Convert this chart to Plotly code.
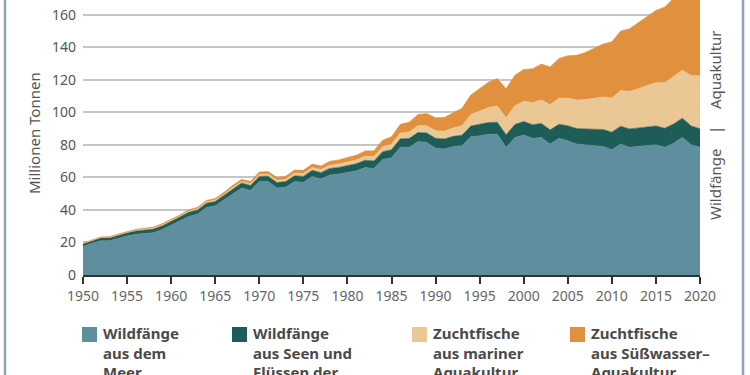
import plotly.graph_objects as go

years = list(range(1950, 2021))

wild_marine = [17.5, 19.5, 21, 21, 22.5, 24, 25, 25.5, 26, 28,
               30.5, 33, 36, 37.5, 41.5, 42.5, 46, 50, 53.5, 52,
               57.5, 57.5, 53.5, 54, 57.5, 57, 60.5, 59, 61.5, 62,
               63, 64, 66, 65.5, 71, 72, 78.5, 78.5, 82, 81.5,
               78, 77.5, 79, 79.5, 85, 85.5, 86.5, 86.5, 78.5, 84.5,
               86, 84, 84.5, 80.5, 84, 82.5, 80.5, 80, 79.5, 79,
               77, 80.5, 78.5, 79, 79.5, 80, 78.5, 81, 84.5, 80, 78.5]

wild_inland = [1.5, 1.6, 1.7, 1.8, 1.9, 2.0, 2.1, 2.2, 2.3, 2.3,
               2.4, 2.4, 2.5, 2.5, 2.6, 2.7, 2.8, 2.9, 3.0, 3.0,
               3.1, 3.2, 3.3, 3.4, 3.5, 3.6, 3.8, 3.9, 4.0, 4.1,
               4.3, 4.4, 4.5, 4.6, 4.8, 5.0, 5.2, 5.4, 5.6, 5.8,
               6.0, 6.1, 6.2, 6.4, 6.6, 7.0, 7.2, 7.4, 7.7, 8.0,
               8.3, 8.4, 8.6, 8.7, 8.6, 9.2, 9.5, 9.8, 10.1, 10.4,
               10.8, 10.9, 11.3, 11.4, 11.5, 11.6, 11.7, 11.8, 11.9, 11.6, 11.4]

aqua_marine = [0.3, 0.3, 0.35, 0.4, 0.4, 0.45, 0.5, 0.5, 0.55, 0.6,
               0.6, 0.65, 0.7, 0.75, 0.8, 0.85, 0.9, 1.0, 1.0, 1.1,
               1.2, 1.3, 1.4, 1.5, 1.6, 1.7, 1.8, 1.9, 2.0, 2.1,
               2.2, 2.3, 2.5, 2.7, 3.0, 3.3, 3.6, 3.9, 4.2, 4.4,
               4.6, 4.8, 5.2, 5.8, 7.0, 8.2, 9.2, 10.0, 10.5, 11.5,
               12.5, 13.5, 14.5, 15.5, 16.0, 17.0, 17.5, 18.0, 19.0, 20.0,
               21.0, 22.0, 23.0, 24.0, 25.5, 26.5, 28.0, 29.0, 29.5, 31.0, 32.5]

aqua_fresh = [0.3, 0.3, 0.35, 0.4, 0.45, 0.5, 0.55, 0.6, 0.65, 0.7,
              0.75, 0.8, 0.85, 0.9, 0.95, 1.0, 1.1, 1.2, 1.3, 1.4,
              1.5, 1.6, 1.7, 1.8, 1.9, 2.0, 2.1, 2.2, 2.4, 2.5,
              2.7, 2.9, 3.2, 3.5, 4.0, 4.6, 5.3, 6.0, 6.8, 7.5,
              8.0, 8.4, 9.3, 10.8, 12.0, 14.0, 15.6, 16.8, 17.8, 18.8,
              19.5, 20.8, 22.0, 23.2, 24.5, 26.0, 27.5, 29.0, 31.0, 32.5,
              34.5, 36.5, 38.5, 40.5, 42.5, 44.5, 46.5, 48.0, 49.5, 51.0, 52.5]

series_names = ["Wildfänge<br>aus dem<br>Meer",
                "Wildfänge<br>aus Seen und<br>Flüssen der",
                "Zuchtfische<br>aus mariner<br>Aquakultur",
                "Zuchtfische<br>aus Süßwasser–<br>Aquakultur"]
colors = ["#5f8e9f", "#1d5c57", "#ecc796", "#e1913e"]
y_ticks = [0, 20, 40, 60, 80, 100, 120, 140, 160]
x_ticks = list(range(1950, 2021, 5))

W, H = 750, 375
L, R, T, B = 83, 50, 0, 100
PW, PH = W - L - R, H - T - B


def px(x):
    return (x - L) / PW


def py(y):
    return (T + PH - y) / PH


fig = go.Figure()
for vals, name, col in zip([wild_marine, wild_inland, aqua_marine, aqua_fresh], series_names, colors):
    fig.add_trace(go.Scatter(x=years, y=vals, name=name, stackgroup="one",
                             mode="lines", line=dict(width=0.6, color=col),
                             fillcolor=col, showlegend=False, hoverinfo="skip"))

font_family = "Noto Sans"
fig.update_layout(
    width=W, height=H,
    margin=dict(l=L, r=R, t=T, b=B),
    paper_bgcolor="white", plot_bgcolor="white",
    font=dict(family=font_family, color="#555555"),
    xaxis=dict(range=[1950, 2020], tickvals=x_ticks, ticks="outside", ticklen=7,
               tickwidth=2, tickcolor="#333333", showline=True, linecolor="#333333",
               linewidth=2, showgrid=False, zeroline=False,
               tickfont=dict(size=14, color="#666666")),
    yaxis=dict(range=[0, 169], tickvals=y_ticks, showgrid=True, gridcolor="#c6c6c6",
               gridwidth=1.5, zeroline=False, showline=False, ticks="",
               ticklabelstandoff=6, tickfont=dict(size=14, color="#555555")),
)

annotations = [
    dict(text="Millionen Tonnen", x=px(34), y=py(133), textangle=-90,
         font=dict(size=15, color="#555555")),
    dict(text="Aquakultur", x=px(715), y=py(70), textangle=-90,
         font=dict(size=15, color="#555555")),
    dict(text="|", x=px(715), y=py(130), textangle=-90,
         font=dict(size=15, color="#555555")),
    dict(text="Wildfänge", x=px(715), y=py(185), textangle=-90,
         font=dict(size=15, color="#555555")),
]
for a in annotations:
    a.update(xref="paper", yref="paper", showarrow=False, xanchor="center", yanchor="middle")

legend_sq_x = [82, 232, 412, 570]
shapes = []
for sx, name, col in zip(legend_sq_x, series_names, colors):
    shapes.append(dict(type="rect", xref="paper", yref="paper",
                       x0=px(sx), x1=px(sx + 15), y0=py(342), y1=py(327),
                       fillcolor=col, line=dict(width=0)))
    annotations.append(dict(text="<b>" + name + "</b>", xref="paper", yref="paper",
                            x=px(sx + 19), y=py(321), xanchor="left", yanchor="top",
                            align="left", showarrow=False,
                            font=dict(size=15, color="#4a4a4a")))

for fx in [5, 743]:
    shapes.append(dict(type="line", xref="paper", yref="paper",
                       x0=px(fx), x1=px(fx), y0=py(0), y1=py(H),
                       line=dict(color="#8ea5b0", width=2.5)))

fig.update_layout(annotations=annotations, shapes=shapes)
fig.write_html("out.html", config={"displayModeBar": False},
               post_script="document.body.style.margin='0';document.body.style.overflow='hidden';")
